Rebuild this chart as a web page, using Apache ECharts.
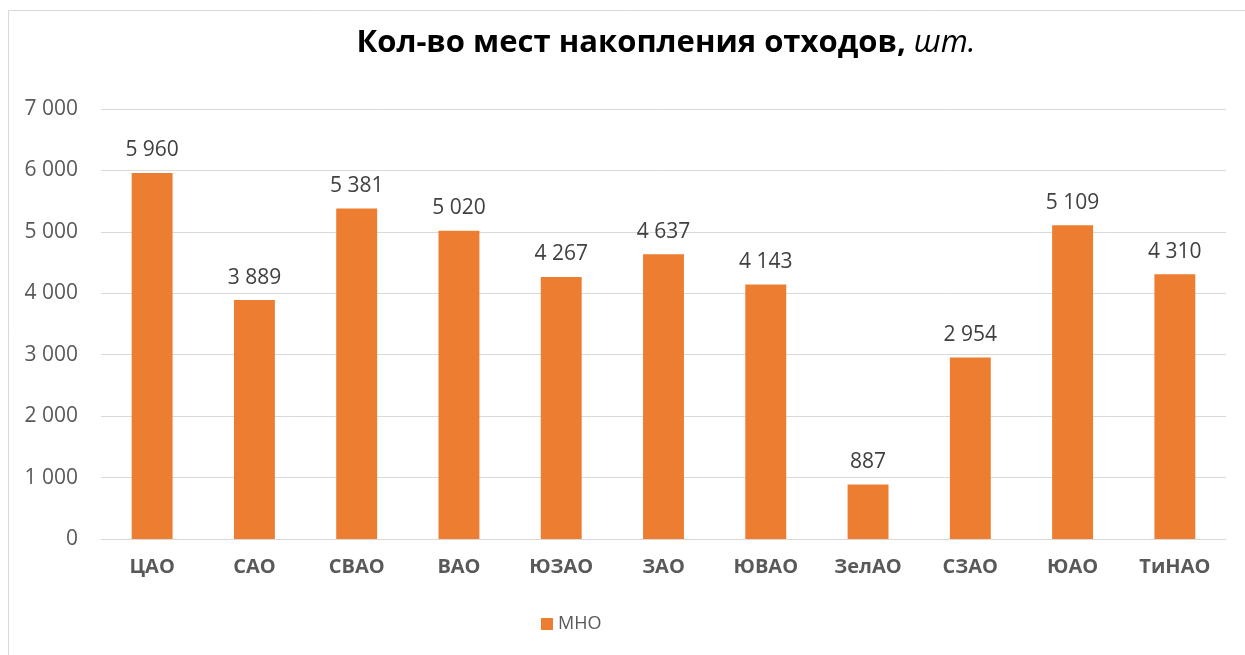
<!DOCTYPE html>
<html><head><meta charset="utf-8">
<script src="https://cdn.jsdelivr.net/npm/echarts@6/dist/echarts.min.js"></script>
<style>html,body{margin:0;padding:0;background:#fff}#c{width:1245px;height:655px}</style>
</head><body><div id="c"></div>
<script>
const categories = ['ЦАО','САО','СВАО','ВАО','ЮЗАО','ЗАО','ЮВАО','ЗелАО','СЗАО','ЮАО','ТиНАО'];
const seriesName = 'МНО';
const values = [5960, 3889, 5381, 5020, 4267, 4637, 4143, 887, 2954, 5109, 4310];
const yTicks = {min: 0, max: 7000, interval: 1000};

function fmt(v){ return String(v).replace(/\B(?=(\d{3})+(?!\d))/g, ' '); }
const FONT = '"Open Sans", sans-serif';
const chart = echarts.init(document.getElementById('c'), null, {renderer:'canvas'});
chart.setOption({
  animation: false,
  backgroundColor: '#fff',
  title: {
    text: '{b|Кол-во мест накопления отходов, }{i|шт.}',
    left: 661, top: 23, textAlign: 'center',
    textStyle: {
      fontWeight: 'normal',
      rich: {
        b: {fontFamily: FONT, fontWeight: 'bold', fontSize: 31, color: '#000'},
        i: {fontFamily: FONT, fontWeight: 'normal', fontStyle: 'italic', fontSize: 31, color: '#000'}
      }
    }
  },
  graphic: [
    {type:'line', shape:{x1:8.5,y1:10.5,x2:1245,y2:10.5}, style:{stroke:'#d9d9d9', lineWidth:1}, silent:true},
    {type:'line', shape:{x1:8.5,y1:10.5,x2:8.5,y2:655}, style:{stroke:'#d9d9d9', lineWidth:1}, silent:true}
  ],
  legend: {
    data: [seriesName], left: 536, top: 610,
    itemWidth: 12, itemHeight: 12, itemGap: 5, icon: 'rect',
    textStyle: {fontFamily: FONT, fontSize: 18, color: '#595959'}
  },
  grid: {left: 101, right: 19, top: 109, bottom: 116},
  xAxis: {
    type: 'category', data: categories,
    axisLine: {lineStyle: {color: '#d9d9d9'}}, axisTick: {show: false},
    axisLabel: {fontFamily: FONT, fontWeight: 'bold', fontSize: 20, color: '#595959', margin: 18}
  },
  yAxis: {
    type: 'value', min: yTicks.min, max: yTicks.max, interval: yTicks.interval,
    axisLine: {show: false}, axisTick: {show: false},
    splitLine: {lineStyle: {color: '#d9d9d9', width: 1}},
    axisLabel: {fontFamily: FONT, fontSize: 21, color: '#595959', margin: 23, formatter: fmt}
  },
  series: [{
    name: seriesName, type: 'bar', data: values, barWidth: '40%',
    itemStyle: {color: '#ED7D31'},
    label: {show: true, position: 'top', distance: 12, fontFamily: FONT, fontSize: 21, color: '#404040', formatter: p => fmt(p.value)}
  }]
});
</script></body></html>
